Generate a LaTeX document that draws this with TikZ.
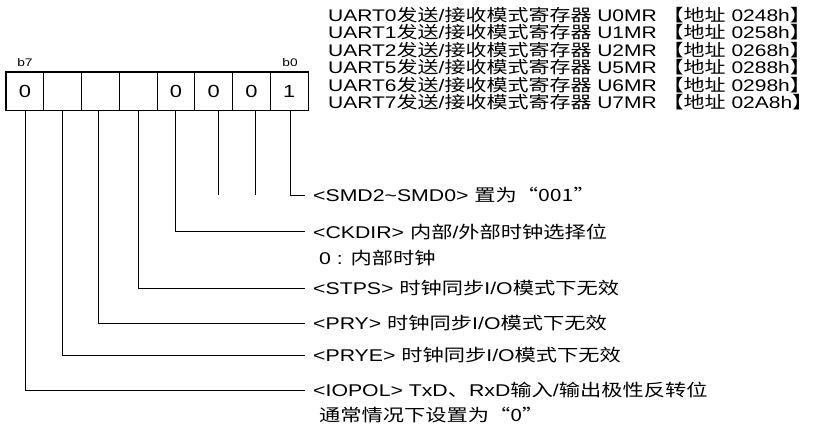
\documentclass[tikz,border=0pt]{standalone}
\usepackage{fontspec}
\setmainfont{Liberation Sans}[FakeStretch=1.25]
\newfontfamily\cjk{Noto Sans CJK SC}[FakeStretch=1.25]
\newcommand{\rbrk}{\makebox[0.6em][l]{\cjk 】}}
\begin{document}
\begin{tikzpicture}[x=1pt,y=-1pt,
  txt/.style={anchor=west,inner sep=0pt,font=\fontsize{17}{17}\selectfont},
  ttl/.style={anchor=west,inner sep=0pt,font=\fontsize{16.8}{16.8}\selectfont},
  cell/.style={minimum width=37.75pt,minimum height=38pt,inner sep=0pt,draw,line width=1pt,font=\fontsize{17.5}{17.5}\selectfont},
  blab/.style={inner sep=0pt,font=\fontsize{11}{11}\selectfont},
  conn/.style={line width=0.8pt}]
\useasboundingbox (0,0) rectangle (815,432);
% register cells
\foreach \i/\v in {7/0,6/,5/,4/,3/0,2/0,1/0,0/1}{
  \node[cell] (c\i) at ({6+37.75*(7-\i)+18.875},91) {\v};
}
\draw[line width=1.6pt] (c7.north west) rectangle (c0.south east);
\node[blab] (b7) at (25,63) {b7};
\node[blab] (b0) at (290,63) {b0};
% titles
\node[ttl] (t0) at (328,15) {UART0{\cjk 发送}/{\cjk 接收模式寄存器} U0MR {\cjk 【地址} 0248h\rbrk};
\node[ttl] (t1) at (328,32.5) {UART1{\cjk 发送}/{\cjk 接收模式寄存器} U1MR {\cjk 【地址} 0258h\rbrk};
\node[ttl] (t2) at (328,50) {UART2{\cjk 发送}/{\cjk 接收模式寄存器} U2MR {\cjk 【地址} 0268h\rbrk};
\node[ttl] (t5) at (328,67.5) {UART5{\cjk 发送}/{\cjk 接收模式寄存器} U5MR {\cjk 【地址} 0288h\rbrk};
\node[ttl] (t6) at (328,85) {UART6{\cjk 发送}/{\cjk 接收模式寄存器} U6MR {\cjk 【地址} 0298h\rbrk};
\node[ttl] (t7) at (328,102.5) {UART7{\cjk 发送}/{\cjk 接收模式寄存器} U7MR {\cjk 【地址} 02A8h\rbrk};
% labels
\coordinate (e0) at (305,195);
\coordinate (e3) at (305,231.5);
\coordinate (e4) at (305,288);
\coordinate (e5) at (305,323);
\coordinate (e6) at (305,355);
\coordinate (e7) at (305,390);
\node[txt] (l0) at (313,195) {<SMD2\textasciitilde SMD0> {\cjk 置为“001”}};
\node[txt] (l3) at (313,231.5) {<CKDIR> {\cjk 内部}/{\cjk 外部时钟选择位}};
\node[txt] (l3b) at (319,258) {0 : {\cjk 内部时钟}};
\node[txt] (l4) at (313,288) {<STPS> {\cjk 时钟同步}I/O{\cjk 模式下无效}};
\node[txt] (l5) at (313,323) {<PRY> {\cjk 时钟同步}I/O{\cjk 模式下无效}};
\node[txt] (l6) at (313,355) {<PRYE> {\cjk 时钟同步}I/O{\cjk 模式下无效}};
\node[txt] (l7) at (313,390) {<IOPOL> TxD{\cjk 、}RxD{\cjk 输入}/{\cjk 输出极性反转位}};
\node[txt] (l7b) at (319,415) {{\cjk 通常情况下设置为“0”}};
% connectors
\draw[conn] ([xshift=1.5pt]c0.south) |- (e0);
\draw[conn] ([xshift=4.5pt]c1.south) -- ([xshift=4.5pt]c1.south |- e0);
\draw[conn] ([xshift=4.5pt]c2.south) -- ([xshift=4.5pt]c2.south |- e0);
\draw[conn] (c3.south) |- (e3);
\draw[conn] (c4.south) |- (e4);
\draw[conn] ([xshift=-2pt]c5.south) |- (e5);
\draw[conn] (c6.south) |- (e6);
\draw[conn] ([xshift=0.8pt]c7.south) |- (e7);
\end{tikzpicture}
\end{document}
